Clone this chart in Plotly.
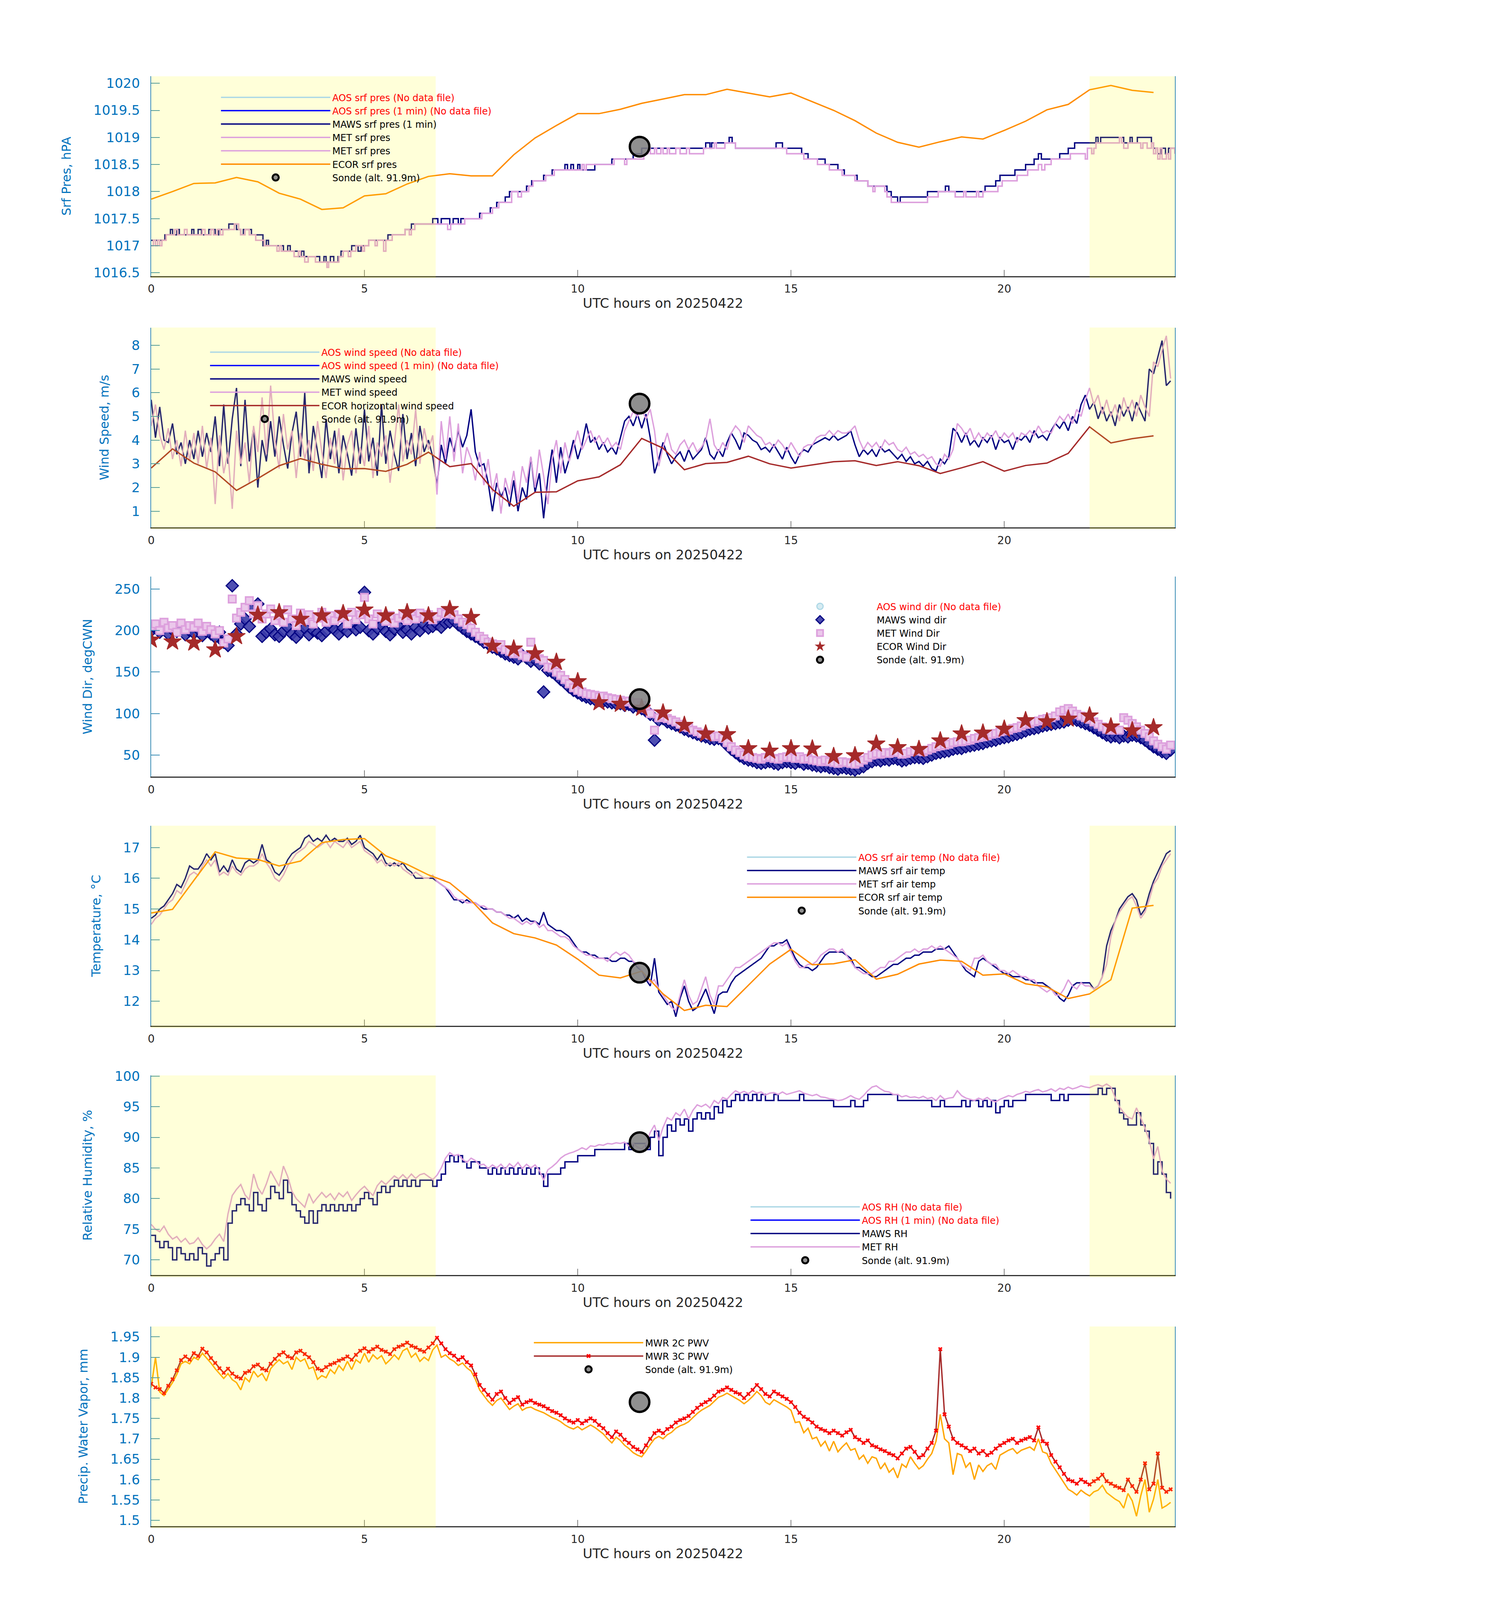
import numpy as np
import plotly.graph_objects as go

# Surface met comparison for 2025-04-22, six stacked panels.
# Layout positions are measured on the 3825 x 7125 original and kept as fractions;
# the page is drawn to fit the 4096 px tall browser screen.
W = 3825
H_REF = 7125
H = 4080
FONT = "DejaVu Sans"
TXT_BLUE = "#0072BD"
AX_BLUE = "#3A8DB5"

# shaded (night) spans, UTC hours
shade_spans = [(0.0, 6.67), (22.0, 24.0)]

# radiosonde launch
sonde_t = [11.45]
sonde_pres = [1018.83]
sonde_ws = [5.54]
sonde_wd = [117.4]
sonde_temp = [12.93]
sonde_rh = [89.2]
sonde_pwv = [1.79]

# ---- pressure (hPa), step data ----
maws_p_t = [0.00, 0.32, 0.45, 0.50, 0.60, 0.66, 0.95, 1.00, 1.10, 1.18, 1.35, 1.50, 1.58, 1.82, 2.00, 2.10,
            2.16, 2.35, 2.62, 2.70, 2.75, 3.10, 3.20, 3.26, 3.45, 3.52, 3.58, 3.95, 4.05, 4.10, 4.20, 4.28,
            4.38, 4.45, 4.70, 4.85, 4.92, 5.10, 5.55, 5.95, 6.10, 6.60, 6.72, 6.80, 7.00, 7.08, 7.20, 7.26,
            7.70, 7.95, 8.10, 8.30, 8.40, 8.80, 8.92, 9.20, 9.40, 9.70, 9.76, 9.84, 9.90, 10.00, 10.05, 10.40,
            10.80, 11.30, 11.50, 13.00, 13.10, 13.14, 13.55, 13.62, 13.70, 14.65, 14.80, 15.25, 15.40, 15.80,
            16.10, 16.25, 16.55, 16.80, 17.25, 17.35, 17.50, 17.56, 18.20, 18.62, 18.70, 19.55, 19.80, 19.90,
            20.25, 20.50, 20.70, 20.80, 20.87, 21.30, 21.50, 21.65, 22.15, 22.20, 22.26, 22.80, 22.95, 23.00,
            23.12, 23.45, 23.50, 23.60, 23.68, 23.78, 23.85, 24.00]
maws_p = [1017.1, 1017.2, 1017.3, 1017.2, 1017.3, 1017.2, 1017.3, 1017.2, 1017.3, 1017.2, 1017.3, 1017.2,
          1017.3, 1017.4, 1017.3, 1017.2, 1017.3, 1017.2, 1017.0, 1017.1, 1017.0, 1016.9, 1017.0, 1016.9,
          1016.8, 1016.9, 1016.8, 1016.7, 1016.8, 1016.7, 1016.8, 1016.7, 1016.8, 1016.9, 1017.0, 1016.9,
          1017.0, 1017.1, 1017.2, 1017.3, 1017.4, 1017.5, 1017.4, 1017.5, 1017.4, 1017.5, 1017.4, 1017.5,
          1017.6, 1017.7, 1017.8, 1017.9, 1018.0, 1018.1, 1018.2, 1018.3, 1018.4, 1018.5, 1018.4, 1018.5,
          1018.4, 1018.5, 1018.4, 1018.5, 1018.6, 1018.7, 1018.8, 1018.9, 1018.8, 1018.9, 1019.0, 1018.9,
          1018.8, 1018.9, 1018.8, 1018.7, 1018.6, 1018.5, 1018.4, 1018.3, 1018.2, 1018.1, 1018.0, 1017.9,
          1017.8, 1017.9, 1018.0, 1018.1, 1018.0, 1018.1, 1018.2, 1018.3, 1018.4, 1018.5, 1018.6, 1018.7,
          1018.6, 1018.7, 1018.8, 1018.9, 1019.0, 1018.9, 1019.0, 1018.9, 1019.0, 1018.9, 1019.0, 1018.9,
          1018.8, 1018.7, 1018.8, 1018.7, 1018.8, 1018.8]

met_p_t = [0.00, 0.05, 0.10, 0.15, 0.20, 0.25, 0.35, 0.55, 0.62, 0.78, 0.84, 1.20, 1.26, 1.40, 1.46, 1.55,
           1.62, 1.68, 1.95, 2.05, 2.10, 2.20, 2.30, 2.45, 2.65, 2.95, 3.00, 3.05, 3.35, 3.45, 3.50, 3.60,
           3.68, 3.85, 4.12, 4.16, 4.40, 4.50, 4.62, 4.68, 4.80, 4.95, 5.00, 5.10, 5.25, 5.30, 5.45, 5.50,
           5.65, 5.95, 6.05, 6.10, 6.18, 6.95, 7.02, 7.35, 7.75, 8.00, 8.15, 8.45, 8.60, 8.68, 8.85, 8.95,
           9.25, 9.45, 10.10, 10.15, 10.20, 10.85, 11.10, 11.15, 11.55, 11.65, 11.70, 11.80, 11.85, 11.95,
           12.00, 12.10, 12.15, 12.30, 12.40, 12.55, 12.62, 12.95, 13.20, 13.25, 13.45, 13.70, 14.10, 14.90,
           15.30, 15.62, 15.90, 16.20, 16.50, 16.80, 16.92, 16.97, 17.20, 17.25, 17.35, 18.20, 18.45, 18.85,
           19.05, 19.10, 19.35, 19.40, 19.50, 19.85, 19.95, 20.30, 20.55, 20.80, 20.88, 20.95, 21.10, 21.55,
           21.90, 21.95, 22.05, 22.10, 22.15, 22.70, 22.75, 22.80, 22.90, 23.20, 23.25, 23.35, 23.45, 23.50,
           23.55, 23.60, 23.65, 23.70, 23.80, 23.85, 23.90, 24.00]
met_p = [1017.0, 1017.1, 1017.0, 1017.1, 1017.0, 1017.1, 1017.2, 1017.3, 1017.2, 1017.3, 1017.2, 1017.3,
         1017.2, 1017.3, 1017.2, 1017.3, 1017.2, 1017.3, 1017.4, 1017.3, 1017.2, 1017.3, 1017.2, 1017.1,
         1017.0, 1016.9, 1017.0, 1016.9, 1016.8, 1016.9, 1016.8, 1016.7, 1016.8, 1016.7, 1016.6, 1016.7,
         1016.8, 1016.9, 1016.8, 1016.9, 1017.0, 1016.9, 1017.0, 1017.1, 1017.0, 1017.1, 1016.9, 1017.1,
         1017.2, 1017.3, 1017.2, 1017.3, 1017.4, 1017.3, 1017.4, 1017.5, 1017.6, 1017.7, 1017.8, 1018.0,
         1017.9, 1018.0, 1018.1, 1018.2, 1018.3, 1018.4, 1018.5, 1018.4, 1018.5, 1018.6, 1018.5, 1018.6,
         1018.7, 1018.8, 1018.7, 1018.8, 1018.7, 1018.8, 1018.7, 1018.8, 1018.7, 1018.8, 1018.7, 1018.8,
         1018.7, 1018.8, 1018.9, 1018.8, 1018.9, 1018.8, 1018.8, 1018.7, 1018.6, 1018.5, 1018.4, 1018.3,
         1018.2, 1018.1, 1018.0, 1018.1, 1018.0, 1017.9, 1017.8, 1017.9, 1018.0, 1017.9, 1018.0, 1017.9,
         1018.0, 1017.9, 1018.0, 1018.1, 1018.2, 1018.3, 1018.4, 1018.5, 1018.4, 1018.5, 1018.6, 1018.7,
         1018.6, 1018.8, 1018.7, 1018.8, 1018.9, 1019.0, 1018.9, 1018.8, 1018.9, 1018.8, 1018.9, 1018.8,
         1018.9, 1018.7, 1018.8, 1018.6, 1018.8, 1018.6, 1018.7, 1018.6, 1018.8, 1018.7]

# ECOR half-hourly
ecor_t = [0.0, 0.5, 1.0, 1.5, 2.0, 2.5, 3.0, 3.5, 4.0, 4.5, 5.0, 5.5, 6.0, 6.5, 7.0, 7.5, 8.0, 8.5, 9.0, 9.5,
          10.0, 10.5, 11.0, 11.5, 12.0, 12.5, 13.0, 13.5, 14.0, 14.5, 15.0, 15.5, 16.0, 16.5, 17.0, 17.5,
          18.0, 18.5, 19.0, 19.5, 20.0, 20.5, 21.0, 21.5, 22.0, 22.5, 23.0, 23.5]
ecor_pres = [1017.86, 1018.00, 1018.15, 1018.16, 1018.26, 1018.18, 1017.97, 1017.86, 1017.67, 1017.70,
             1017.92, 1017.96, 1018.14, 1018.28, 1018.33, 1018.29, 1018.29, 1018.68, 1018.99, 1019.22,
             1019.44, 1019.44, 1019.52, 1019.63, 1019.71, 1019.79, 1019.79, 1019.89, 1019.82, 1019.75,
             1019.82, 1019.66, 1019.50, 1019.31, 1019.08, 1018.91, 1018.82, 1018.92, 1019.01, 1018.97,
             1019.13, 1019.30, 1019.51, 1019.61, 1019.88, 1019.96, 1019.87, 1019.83]
ecor_ws = [2.82, 3.63, 3.03, 2.66, 1.88, 2.38, 2.92, 3.22, 2.98, 2.79, 2.80, 2.68, 2.98, 3.49, 2.88, 3.01,
           1.92, 1.21, 1.80, 1.82, 2.28, 2.45, 2.96, 4.07, 3.66, 2.75, 3.01, 3.06, 3.32, 3.00, 2.82, 2.96,
           3.09, 3.13, 2.93, 3.09, 2.92, 2.59, 2.83, 3.09, 2.69, 2.93, 3.03, 3.44, 4.56, 3.88, 4.06, 4.18]
ecor_wd = [188.8, 186.5, 185.2, 177.0, 193.0, 218.8, 221.8, 213.8, 218.0, 220.7, 225.0, 218.0, 221.8, 218.0,
           225.6, 216.0, 181.3, 178.0, 172.4, 162.0, 138.6, 113.3, 111.4, 106.7, 101.0, 86.0, 75.7, 74.8,
           57.9, 55.0, 57.9, 57.5, 48.5, 49.4, 63.5, 59.2, 57.0, 67.3, 75.7, 76.7, 81.4, 91.7, 90.4, 93.6,
           97.3, 84.2, 79.5, 83.2]
ecor_temp = [14.87, 14.99, 15.93, 16.86, 16.66, 16.61, 16.40, 16.56, 17.16, 17.26, 17.29, 16.73, 16.45,
             16.11, 15.85, 15.28, 14.55, 14.20, 14.06, 13.83, 13.37, 12.85, 12.76, 12.98, 12.24, 11.70,
             11.87, 11.83, 12.52, 13.21, 13.69, 13.19, 13.22, 13.35, 12.72, 12.88, 13.21, 13.34, 13.30,
             12.85, 12.89, 12.57, 12.47, 12.09, 12.24, 12.70, 15.03, 15.12]

# ---- 6-minute samples, 0.0 .. 23.9 h ----
maws_ws = [5.7, 4.1, 5.4, 4.0, 3.9, 4.7, 3.4, 3.9, 3.0, 4.0,
           3.2, 4.4, 3.3, 4.3, 3.5, 5.0, 2.9, 5.5, 3.0, 4.9,
           6.2, 2.9, 5.7, 3.1, 4.5, 2.0, 4.0, 3.1, 4.8, 3.3,
           5.0, 3.8, 2.8, 4.3, 5.2, 3.3, 6.0, 2.6, 4.6, 3.5,
           2.4, 4.9, 3.2, 4.4, 2.6, 4.2, 3.4, 2.5, 4.5, 3.0,
           5.3, 3.1, 4.1, 2.5, 5.5, 3.0, 4.4, 3.4, 2.7, 5.1,
           3.2, 4.3, 2.9, 4.6, 3.5, 4.0, 3.3, 2.1, 3.8, 3.0,
           4.1, 3.5, 4.4, 3.7, 4.2, 5.3, 3.5, 2.9, 3.0, 2.2,
           1.0, 2.2, 1.6, 2.0, 1.2, 2.3, 1.0, 2.0, 1.5, 3.3,
           1.8, 2.6, 0.7, 2.4, 3.6, 2.2, 3.7, 2.6, 3.2, 4.0,
           3.2, 3.8, 4.7, 3.9, 4.1, 3.6, 3.9, 3.5, 3.7, 3.4,
           4.1, 4.8, 5.0, 4.6, 5.1, 4.5, 5.1, 4.1, 2.6, 3.2,
           3.9, 3.4, 3.0, 3.3, 3.5, 3.1, 3.6, 3.2, 3.4, 3.6,
           4.1, 3.4, 3.2, 3.6, 3.3, 3.9, 4.3, 4.0, 3.6, 4.3,
           4.2, 4.0, 3.9, 3.6, 3.7, 3.5, 3.8, 3.5, 3.2, 3.7,
           3.3, 3.0, 3.4, 3.6, 3.5, 3.8, 3.9, 4.0, 4.1, 4.0,
           4.2, 4.0, 4.1, 4.2, 4.4, 3.8, 3.3, 3.6, 3.4, 3.6,
           3.3, 3.7, 3.5, 3.6, 3.4, 3.2, 3.4, 3.1, 3.3, 3.0,
           3.1, 2.9, 3.1, 2.8, 2.7, 3.2, 3.0, 3.3, 4.5, 4.3,
           3.9, 4.3, 3.8, 4.0, 3.7, 4.1, 3.9, 4.2, 3.6, 4.1,
           3.9, 4.0, 3.6, 4.1, 4.0, 4.2, 3.9, 4.4, 4.1, 4.2,
           4.0, 4.4, 4.7, 4.5, 4.8, 4.4, 5.0, 4.7, 5.5, 5.9,
           5.3, 5.6, 4.9, 5.4, 4.8, 5.2, 4.6, 5.5, 5.0, 5.4,
           4.8, 5.6, 5.2, 4.8, 7.0, 6.8, 7.5, 8.2, 6.3, 6.5]
met_ws = [4.6, 5.5, 4.2, 3.6, 4.5, 3.2, 4.0, 2.9, 4.4, 3.1,
          4.3, 3.0, 4.6, 2.8, 4.1, 1.3, 4.2, 2.6, 3.5, 1.1,
          4.4, 3.0, 3.9, 2.2, 4.6, 3.5, 5.8, 3.4, 6.3, 4.0,
          2.8, 5.1, 3.6, 4.4, 2.4, 4.3, 3.2, 4.0, 2.7, 4.8,
          3.5, 2.4, 4.1, 3.0, 4.5, 2.3, 3.8, 4.4, 2.6, 3.7,
          2.9, 4.6, 2.4, 3.9, 3.3, 4.2, 2.2, 3.8, 5.5, 3.1,
          4.0, 3.4, 5.3, 3.0, 4.5, 3.6, 4.2, 1.7, 4.8, 3.2,
          5.0, 3.1, 4.7, 2.6, 3.7, 3.2, 2.3, 3.5, 2.1, 3.2,
          1.8, 2.6, 0.9, 2.4, 1.7, 2.7, 1.4, 2.9, 2.2, 3.3,
          2.0, 3.6, 2.5, 1.3, 3.2, 4.0, 2.6, 3.9, 3.1, 3.7,
          4.4, 3.6, 4.0, 4.4, 3.9, 4.2, 3.8, 4.1, 3.7, 3.9,
          3.6, 4.4, 4.8, 5.2, 5.0, 5.3, 4.9, 5.3, 4.4, 2.9,
          3.7, 4.3, 3.6, 3.4, 3.8, 4.0, 3.6, 3.9, 3.5, 3.7,
          4.0, 4.9, 3.8, 3.5, 3.9, 3.6, 4.3, 4.6, 4.4, 3.9,
          4.6, 4.4, 4.2, 4.1, 3.8, 3.9, 3.7, 4.0, 3.8, 3.5,
          3.9, 3.6, 3.3, 3.7, 3.8, 3.8, 4.1, 4.2, 4.2, 4.4,
          4.2, 4.4, 4.3, 4.3, 4.4, 4.6, 4.0, 3.6, 3.9, 3.7,
          3.9, 3.6, 4.0, 3.8, 3.9, 3.6, 3.5, 3.7, 3.4, 3.5,
          3.3, 3.4, 3.2, 3.3, 3.0, 2.9, 3.4, 3.2, 3.6, 4.7,
          4.5, 4.2, 4.5, 4.0, 4.3, 4.0, 4.3, 4.1, 4.4, 4.0,
          4.3, 4.1, 4.3, 3.9, 4.3, 4.2, 4.4, 4.2, 4.6, 4.3,
          4.4, 4.3, 4.7, 5.0, 4.8, 5.1, 4.7, 5.3, 5.0, 5.7,
          6.2, 5.5, 5.9, 5.1, 5.7, 5.0, 5.5, 4.8, 5.8, 5.2,
          5.7, 5.0, 5.9, 5.4, 5.0, 7.3, 7.1, 7.8, 8.4, 6.6]

maws_wd = [200, 203, 198, 205, 196, 201, 199, 204, 195, 200,
           197, 202, 194, 199, 196, 192, 198, 186, 182, 254,
           196, 208, 214, 205, 228, 232, 193, 198, 202, 195,
           193, 199, 204, 196, 192, 198, 203, 195, 200, 197,
           194, 199, 205, 201, 196, 203, 199, 206, 201, 204,
           246, 200, 196, 203, 206, 199, 195, 202, 205, 198,
           201, 196, 204, 200, 207, 203, 205, 208, 204, 209,
           210, 212, 207, 203, 199, 196, 193, 190, 186, 184,
           180, 178, 175, 172, 170, 168, 166, 170, 167, 163,
           165, 160, 126, 152, 150, 146, 141, 137, 132, 128,
           125, 122, 120, 118, 117, 116, 115, 114, 113, 112,
           112, 110, 111, 108, 109, 106, 103, 99, 68, 92,
           94, 90, 88, 86, 84, 81, 79, 77, 75, 73,
           72, 70, 69, 70, 68, 62, 57, 53, 49, 46,
           44, 43, 41, 40, 41, 42, 40, 39, 41, 42,
           41, 40, 42, 39, 40, 38, 37, 36, 37, 35,
           34, 33, 35, 34, 33, 32, 34, 36, 40, 42,
           44, 43, 45, 44, 46, 45, 43, 44, 46, 47,
           47, 46, 48, 50, 52, 53, 54, 55, 57, 58,
           58, 60, 61, 62, 63, 64, 66, 67, 68, 70,
           71, 72, 74, 75, 77, 79, 81, 82, 83, 85,
           86, 87, 88, 89, 90, 92, 93, 92, 90, 88,
           86, 83, 80, 77, 74, 72, 73, 71, 73, 72,
           74, 73, 71, 68, 64, 60, 57, 54, 52, 56]
met_wd = [205, 208, 200, 210, 203, 206, 198, 209, 201, 206,
          204, 209, 199, 205, 201, 196, 200, 185, 190, 238,
          215, 222, 228, 236, 220, 230, 214, 220, 226, 212,
          218, 210, 225, 214, 206, 221, 212, 219, 208, 215,
          222, 210, 218, 212, 220, 215, 208, 222, 213, 219,
          240, 214, 208, 220, 216, 211, 218, 209, 215, 220,
          212, 218, 214, 221, 216, 219, 213, 217, 222, 220,
          223, 219, 214, 210, 207, 203, 198, 193, 190, 186,
          184, 180, 183, 177, 175, 172, 174, 170, 168, 186,
          170, 166, 164, 156, 155, 150, 146, 141, 136, 131,
          128, 126, 124, 123, 122, 120, 121, 119, 118, 117,
          116, 114, 115, 112, 113, 110, 106, 100, 80, 95,
          97, 94, 92, 90, 87, 84, 83, 80, 78, 76,
          75, 74, 72, 73, 70, 65, 60, 56, 53, 50,
          48, 47, 46, 45, 47, 48, 46, 45, 47, 48,
          47, 46, 48, 45, 46, 44, 43, 42, 44, 42,
          41, 40, 42, 41, 40, 39, 41, 44, 47, 50,
          52, 51, 53, 52, 54, 53, 51, 52, 54, 55,
          55, 54, 56, 58, 60, 61, 62, 63, 65, 66,
          66, 67, 68, 70, 71, 72, 73, 75, 76, 78,
          79, 80, 82, 83, 85, 87, 88, 90, 91, 93,
          94, 95, 97, 102, 104, 106, 103, 99, 97, 95,
          93, 90, 87, 84, 81, 80, 82, 80, 95, 92,
          88, 84, 80, 76, 72, 67, 63, 60, 57, 62]

maws_temp = [14.7, 14.8, 15.0, 15.1, 15.3, 15.5, 15.8, 15.7, 16.0, 16.4,
             16.3, 16.3, 16.5, 16.8, 16.6, 16.8, 16.2, 16.4, 16.2, 16.6,
             16.3, 16.2, 16.5, 16.6, 16.5, 16.6, 17.1, 16.6, 16.5, 16.2,
             16.1, 16.3, 16.6, 16.8, 16.9, 17.0, 17.3, 17.4, 17.2, 17.3,
             17.2, 17.4, 17.2, 17.3, 17.2, 17.2, 17.3, 17.1, 17.2, 17.4,
             17.0, 16.9, 16.8, 16.6, 16.8, 16.5, 16.4, 16.5, 16.4, 16.5,
             16.3, 16.2, 16.0, 16.0, 16.0, 16.0, 16.0, 15.9, 15.8, 15.7,
             15.5, 15.3, 15.3, 15.2, 15.3, 15.2, 15.2, 15.1, 15.0, 15.0,
             15.0, 14.9, 14.9, 14.8, 14.8, 14.7, 14.8, 14.6, 14.7, 14.6,
             14.6, 14.5, 14.9, 14.5, 14.4, 14.3, 14.3, 14.2, 14.1, 13.9,
             13.7, 13.6, 13.6, 13.5, 13.5, 13.4, 13.4, 13.4, 13.3, 13.3,
             13.4, 13.4, 13.3, 13.3, 13.1, 13.0, 12.7, 12.5, 13.4, 12.3,
             12.1, 11.9, 12.0, 11.5, 12.1, 12.5, 12.0, 11.7, 11.8, 12.1,
             12.4, 12.0, 11.6, 12.2, 12.3, 12.3, 12.6, 12.8, 12.9, 13.0,
             13.1, 13.2, 13.3, 13.4, 13.6, 13.8, 13.8, 13.9, 13.9, 14.0,
             13.7, 13.4, 13.2, 13.1, 13.1, 13.0, 13.1, 13.3, 13.5, 13.6,
             13.6, 13.6, 13.6, 13.5, 13.4, 13.1, 13.1, 13.0, 12.9, 12.8,
             12.8, 12.9, 13.0, 13.1, 13.2, 13.2, 13.3, 13.4, 13.4, 13.5,
             13.5, 13.6, 13.6, 13.6, 13.7, 13.7, 13.7, 13.8, 13.6, 13.4,
             13.2, 13.0, 12.9, 12.8, 13.3, 13.4, 13.3, 13.2, 13.1, 13.0,
             12.9, 12.9, 12.8, 12.8, 12.8, 12.7, 12.7, 12.6, 12.6, 12.6,
             12.5, 12.4, 12.3, 12.1, 12.0, 12.2, 12.5, 12.6, 12.6, 12.6,
             12.6, 12.4, 12.5, 12.8, 13.8, 14.3, 14.6, 15.0, 15.2, 15.4,
             15.5, 15.3, 14.8, 15.0, 15.5, 15.9, 16.2, 16.5, 16.8, 16.9]
met_temp = [14.5, 14.7, 14.8, 15.0, 15.2, 15.3, 15.6, 15.5, 15.8, 16.1,
            16.2, 16.1, 16.4, 16.6, 16.4, 16.6, 16.1, 16.2, 16.1, 16.4,
            16.2, 16.1, 16.3, 16.4, 16.4, 16.5, 16.8, 16.5, 16.3, 16.0,
            15.9, 16.1, 16.4, 16.6, 16.8, 16.9, 17.0, 17.2, 17.1, 17.0,
            17.1, 17.2, 17.0, 17.2, 17.1, 17.0, 17.2, 17.0, 17.1, 17.2,
            16.9, 16.8, 16.7, 16.5, 16.6, 16.4, 16.5, 16.4, 16.5, 16.3,
            16.2, 16.1, 16.2, 16.1, 16.0, 16.0, 16.1, 15.9, 15.8, 15.7,
            15.6, 15.4, 15.3, 15.3, 15.2, 15.2, 15.2, 15.1, 15.1, 15.0,
            15.0, 14.9, 14.9, 14.8, 14.7, 14.7, 14.6, 14.5, 14.6, 14.5,
            14.6, 14.4, 14.5, 14.3, 14.3, 14.2, 14.1, 14.1, 14.0, 13.8,
            13.7, 13.6, 13.5, 13.5, 13.4, 13.4, 13.4, 13.3, 13.5, 13.6,
            13.5, 13.6, 13.5, 13.3, 13.2, 13.0, 12.8, 12.6, 12.7, 12.4,
            12.2, 12.0, 11.8, 11.7, 12.2, 12.7, 12.2, 11.9, 12.0, 12.4,
            12.8, 12.2, 11.9, 12.5, 12.5, 12.7, 12.9, 13.1, 13.1, 13.2,
            13.3, 13.4, 13.5, 13.6, 13.7, 13.8, 13.9, 13.9, 13.8, 13.9,
            13.6, 13.3, 13.1, 13.1, 13.2, 13.2, 13.3, 13.5, 13.6, 13.7,
            13.7, 13.6, 13.7, 13.5, 13.3, 13.1, 13.0, 12.9, 12.9, 12.9,
            13.0, 13.1, 13.1, 13.3, 13.3, 13.4, 13.5, 13.6, 13.6, 13.7,
            13.6, 13.7, 13.7, 13.8, 13.7, 13.8, 13.7, 13.6, 13.5, 13.4,
            13.2, 13.1, 13.0, 13.4, 13.4, 13.5, 13.3, 13.2, 13.2, 13.0,
            13.0, 12.9, 13.0, 12.9, 12.8, 12.8, 12.7, 12.7, 12.5, 12.4,
            12.3, 12.4, 12.2, 12.2, 12.4, 12.7, 12.5, 12.4, 12.6, 12.5,
            12.5, 12.4, 12.5, 12.8, 13.2, 14.1, 14.6, 14.9, 15.1, 15.3,
            15.4, 15.1, 14.7, 14.9, 15.3, 15.8, 16.0, 16.4, 16.6, 16.8]

maws_rh = [74, 73, 72, 73, 72, 70, 72, 71, 70, 71,
           70, 72, 71, 69, 70, 71, 72, 70, 76, 78,
           79, 80, 79, 78, 81, 79, 78, 80, 82, 81,
           80, 83, 81, 79, 78, 77, 76, 78, 76, 78,
           79, 78, 79, 78, 79, 78, 79, 78, 79, 80,
           81, 80, 79, 81, 82, 81, 82, 83, 82, 83,
           82, 83, 82, 83, 83, 83, 82, 83, 84, 86,
           87, 86, 87, 86, 85, 86, 86, 85, 85, 84,
           85, 84, 85, 84, 85, 84, 85, 84, 85, 84,
           85, 84, 82, 84, 84, 84, 85, 86, 86, 86,
           87, 87, 87, 87, 88, 88, 88, 88, 88, 88,
           88, 89, 88, 89, 89, 89, 88, 90, 91, 87,
           90, 92, 91, 93, 92, 93, 91, 93, 94, 93,
           94, 93, 95, 94, 96, 95, 96, 97, 96, 97,
           96, 97, 96, 97, 96, 96, 97, 96, 96, 96,
           96, 96, 97, 96, 96, 96, 96, 96, 96, 96,
           95, 95, 95, 95, 96, 95, 95, 96, 97, 97,
           97, 97, 97, 97, 97, 96, 96, 96, 96, 96,
           96, 96, 96, 95, 95, 96, 95, 95, 95, 95,
           96, 95, 96, 96, 95, 96, 95, 96, 94, 95,
           96, 95, 96, 96, 96, 97, 97, 97, 97, 97,
           97, 96, 96, 97, 96, 97, 97, 97, 97, 97,
           97, 97, 98, 97, 98, 98, 96, 94, 93, 92,
           92, 94, 92, 91, 89, 84, 86, 84, 81, 80]
met_rh = [75.8, 75.0, 74.6, 75.5, 74.2, 73.4, 73.8, 72.9, 73.5, 72.6,
          72.8, 73.6, 72.5, 71.8, 72.4, 73.4, 74.2, 73.0, 77.5, 80.5,
          81.5, 82.3, 80.6, 79.8, 84.0, 81.8, 80.7, 82.4, 84.5, 83.2,
          82.0, 85.3, 83.6, 81.2, 80.0, 79.3, 78.6, 80.8, 79.3, 80.2,
          81.0, 80.2, 80.8, 79.8, 80.9, 80.3, 81.1, 79.7, 80.6, 81.4,
          82.0, 81.2, 80.5, 82.1, 82.9, 82.3, 83.0, 83.7, 83.2, 83.9,
          83.2, 84.0, 83.3, 83.9, 84.1, 83.6, 83.1, 83.8, 85.0, 86.6,
          87.5, 87.0, 87.2, 86.4, 85.9, 86.6, 86.2, 85.5, 85.6, 84.9,
          85.5, 85.0, 85.6, 84.8, 85.7, 85.1, 85.9, 84.9, 85.6, 85.0,
          85.5, 84.6, 83.0, 84.7, 85.2, 85.8, 86.6, 87.1, 87.4, 87.6,
          87.9, 88.3, 88.0, 88.6, 88.5, 88.8, 88.7, 89.0, 88.9, 89.1,
          89.0, 89.2, 88.6, 89.0, 88.4, 88.1, 88.9, 90.8, 92.0, 89.5,
          91.6, 93.2, 92.8, 94.0, 93.5, 94.6, 93.0, 94.4, 95.3, 95.0,
          95.4, 94.8, 96.0, 95.5, 96.5, 96.2, 97.0, 97.6, 97.2, 97.5,
          97.1, 97.6, 97.2, 97.4, 96.9, 97.2, 97.3, 97.0, 97.4, 97.0,
          97.2, 97.4, 97.6, 97.2, 97.0, 96.8, 97.0, 96.6, 96.5, 96.3,
          96.2, 96.0, 96.1, 96.4, 96.8, 96.4, 96.2, 96.8, 97.6, 98.2,
          98.4, 97.9, 97.5, 97.4, 97.0, 97.0, 96.6, 96.8, 96.5, 96.6,
          96.4, 96.7, 96.3, 96.5, 96.0, 96.8, 96.2, 96.4, 96.5, 97.6,
          96.8, 96.4, 96.2, 96.0, 96.4, 96.1, 96.5, 96.0, 95.8, 96.2,
          96.5, 96.8, 96.6, 97.0, 97.2, 97.5, 97.3, 97.6, 97.8, 97.4,
          97.6, 97.9, 97.5, 98.0, 97.8, 98.2, 97.9, 98.1, 98.4, 98.2,
          98.1, 98.4, 98.6, 98.3, 98.7, 98.2, 96.5, 95.0, 94.0, 93.3,
          93.0, 94.8, 93.2, 91.5, 89.5, 86.5, 88.5, 84.5, 83.2, 82.5]

mwr3c_pwv = [1.835, 1.826, 1.822, 1.812, 1.830, 1.846, 1.868, 1.893, 1.902, 1.894,
             1.910, 1.903, 1.921, 1.912, 1.898, 1.886, 1.873, 1.862, 1.872, 1.860,
             1.852, 1.848, 1.862, 1.866, 1.878, 1.882, 1.872, 1.868, 1.884, 1.896,
             1.906, 1.912, 1.902, 1.898, 1.912, 1.916, 1.908, 1.900, 1.888, 1.872,
             1.868, 1.876, 1.882, 1.886, 1.892, 1.896, 1.902, 1.894, 1.906, 1.916,
             1.922, 1.914, 1.920, 1.926, 1.918, 1.914, 1.908, 1.920, 1.926, 1.930,
             1.936, 1.928, 1.924, 1.918, 1.914, 1.924, 1.934, 1.948, 1.934, 1.920,
             1.910, 1.904, 1.894, 1.900, 1.888, 1.880, 1.858, 1.832, 1.820, 1.808,
             1.796, 1.810, 1.816, 1.800, 1.788, 1.796, 1.802, 1.784, 1.790, 1.794,
             1.788, 1.784, 1.780, 1.774, 1.768, 1.764, 1.758, 1.750, 1.744, 1.740,
             1.746, 1.738, 1.744, 1.750, 1.744, 1.734, 1.726, 1.714, 1.704, 1.718,
             1.710, 1.698, 1.690, 1.680, 1.674, 1.668, 1.684, 1.700, 1.714, 1.720,
             1.714, 1.724, 1.730, 1.740, 1.746, 1.750, 1.756, 1.766, 1.776, 1.784,
             1.790, 1.796, 1.806, 1.816, 1.820, 1.826, 1.820, 1.814, 1.810, 1.800,
             1.810, 1.820, 1.832, 1.822, 1.810, 1.804, 1.816, 1.810, 1.804, 1.798,
             1.790, 1.778, 1.764, 1.754, 1.748, 1.740, 1.730, 1.724, 1.720, 1.714,
             1.720, 1.714, 1.708, 1.716, 1.722, 1.704, 1.698, 1.690, 1.696, 1.684,
             1.680, 1.674, 1.670, 1.664, 1.660, 1.652, 1.664, 1.676, 1.680, 1.668,
             1.654, 1.660, 1.676, 1.690, 1.720, 1.920, 1.760, 1.730, 1.700, 1.690,
             1.684, 1.678, 1.670, 1.676, 1.664, 1.670, 1.660, 1.666, 1.676, 1.684,
             1.690, 1.696, 1.700, 1.690, 1.696, 1.700, 1.704, 1.696, 1.728, 1.694,
             1.688, 1.660, 1.644, 1.630, 1.614, 1.600, 1.596, 1.590, 1.600, 1.594,
             1.588, 1.596, 1.602, 1.612, 1.596, 1.590, 1.584, 1.580, 1.574, 1.600,
             1.584, 1.570, 1.600, 1.640, 1.576, 1.590, 1.664, 1.580, 1.570, 1.576]
mwr2c_pwv = [1.826, 1.900, 1.815, 1.806, 1.822, 1.838, 1.858, 1.884, 1.890, 1.884,
             1.900, 1.894, 1.910, 1.898, 1.886, 1.872, 1.860, 1.848, 1.860, 1.845,
             1.838, 1.820, 1.850, 1.840, 1.866, 1.852, 1.860, 1.842, 1.872, 1.884,
             1.894, 1.884, 1.890, 1.870, 1.900, 1.890, 1.896, 1.872, 1.876, 1.846,
             1.855, 1.850, 1.870, 1.860, 1.880, 1.868, 1.890, 1.870, 1.894, 1.886,
             1.910, 1.888, 1.906, 1.896, 1.904, 1.884, 1.894, 1.906, 1.895, 1.916,
             1.922, 1.900, 1.910, 1.890, 1.900, 1.892, 1.918, 1.930, 1.900, 1.906,
             1.896, 1.890, 1.880, 1.886, 1.874, 1.866, 1.846, 1.820, 1.806, 1.792,
             1.782, 1.794, 1.800, 1.786, 1.772, 1.780, 1.786, 1.770, 1.776, 1.778,
             1.772, 1.768, 1.764, 1.758, 1.752, 1.748, 1.742, 1.734, 1.728, 1.724,
             1.730, 1.722, 1.728, 1.734, 1.728, 1.720, 1.712, 1.700, 1.690, 1.704,
             1.696, 1.684, 1.676, 1.666, 1.660, 1.656, 1.670, 1.686, 1.700, 1.706,
             1.700, 1.710, 1.716, 1.726, 1.732, 1.736, 1.742, 1.752, 1.762, 1.770,
             1.776, 1.782, 1.792, 1.802, 1.806, 1.812, 1.806, 1.800, 1.794, 1.786,
             1.794, 1.804, 1.816, 1.806, 1.790, 1.784, 1.796, 1.790, 1.784, 1.778,
             1.770, 1.740, 1.742, 1.715, 1.726, 1.700, 1.704, 1.682, 1.694, 1.670,
             1.694, 1.668, 1.680, 1.690, 1.672, 1.676, 1.650, 1.660, 1.640, 1.656,
             1.652, 1.626, 1.640, 1.618, 1.628, 1.604, 1.638, 1.630, 1.656, 1.640,
             1.626, 1.634, 1.650, 1.664, 1.694, 1.760, 1.700, 1.690, 1.612, 1.664,
             1.660, 1.630, 1.642, 1.600, 1.636, 1.620, 1.634, 1.640, 1.625, 1.660,
             1.666, 1.672, 1.676, 1.664, 1.672, 1.676, 1.680, 1.672, 1.700, 1.668,
             1.664, 1.640, 1.624, 1.608, 1.592, 1.576, 1.570, 1.562, 1.574, 1.566,
             1.560, 1.570, 1.574, 1.586, 1.568, 1.560, 1.552, 1.546, 1.530, 1.566,
             1.548, 1.510, 1.560, 1.600, 1.520, 1.552, 1.600, 1.530, 1.536, 1.544]

t6 = np.arange(len(maws_ws)) * 0.1  # 6-minute sample times

# ---- layout helpers (pixel positions on the 3825 x 7125 original) ----
panels = [(296, 1196), (1428, 2328), (2550, 3451), (3672, 4574), (4797, 5697), (5928, 6828)]
y_ranges = [[1016.44, 1020.13], [0.32, 8.75], [24, 265], [11.2, 17.71], [67.5, 100.1], [1.4855, 1.9756]]
y_ticks = [[1016.5, 1017, 1017.5, 1018, 1018.5, 1019, 1019.5, 1020],
           [1, 2, 3, 4, 5, 6, 7, 8],
           [50, 100, 150, 200, 250],
           [12, 13, 14, 15, 16, 17],
           [70, 75, 80, 85, 90, 95, 100],
           [1.5, 1.55, 1.6, 1.65, 1.7, 1.75, 1.8, 1.85, 1.9, 1.95]]
y_titles = ["Srf Pres, hPA", "Wind Speed, m/s", "Wind Dir, degCWN", "Temperature, °C",
            "Relative Humidity, %", "Precip. Water Vapor, mm"]
legend_pos = [(545, 352), (517, 1500), (1942, 2645), (1895, 3775), (1904, 5350), (1348, 5962)]

fig = go.Figure()


def ax(i):
    return ("x" if i == 1 else f"x{i}"), ("y" if i == 1 else f"y{i}"), ("legend" if i == 1 else f"legend{i}")


def red(s):
    return f'<span style="color:red">{s}</span>'


def line(i, x, y, name, color, shape="linear", width=3.5):
    xa, ya, lg = ax(i)
    fig.add_trace(go.Scatter(x=x, y=y, name=name, mode="lines", line=dict(color=color, width=width, shape=shape),
                             xaxis=xa, yaxis=ya, legend=lg))


def sonde(i, y):
    xa, ya, lg = ax(i)
    fig.add_trace(go.Scatter(x=sonde_t, y=y, name="Sonde (alt. 91.9m)", mode="markers",
                             marker=dict(symbol="circle", size=50, color="rgba(128,128,128,0.88)",
                                         line=dict(color="black", width=6)),
                             xaxis=xa, yaxis=ya, legend=lg))


# panel 1: pressure
line(1, [None], [None], red("AOS srf pres (No data file)"), "#ADD8E6")
line(1, [None], [None], red("AOS srf pres (1 min) (No data file)"), "#0000FF")
line(1, maws_p_t, maws_p, "MAWS srf pres (1 min)", "#000080", shape="hv")
line(1, met_p_t, met_p, "MET srf pres", "#DDA0DD", shape="hv")
line(1, met_p_t, met_p, "MET srf pres", "#DDA0DD", shape="hv")
line(1, ecor_t, ecor_pres, "ECOR srf pres", "#FF8C00")
sonde(1, sonde_pres)

# panel 2: wind speed
line(2, [None], [None], red("AOS wind speed (No data file)"), "#ADD8E6")
line(2, [None], [None], red("AOS wind speed (1 min) (No data file)"), "#0000FF")
line(2, t6, maws_ws, "MAWS wind speed", "#000080")
line(2, t6, met_ws, "MET wind speed", "#DDA0DD")
line(2, ecor_t, ecor_ws, "ECOR horizontal wind speed", "#A52A2A")
sonde(2, sonde_ws)

# panel 3: wind direction (markers)
fig.add_trace(go.Scatter(x=[None], y=[None], name=red("AOS wind dir (No data file)"), mode="markers",
                         marker=dict(symbol="circle", size=24, color="rgba(173,216,230,0.5)",
                                     line=dict(color="#ADD8E6", width=3)),
                         xaxis="x3", yaxis="y3", legend="legend3"))
fig.add_trace(go.Scatter(x=t6, y=maws_wd, name="MAWS wind dir", mode="markers",
                         marker=dict(symbol="diamond", size=24, color="rgba(60,60,170,0.9)",
                                     line=dict(color="#000080", width=3)),
                         xaxis="x3", yaxis="y3", legend="legend3"))
fig.add_trace(go.Scatter(x=t6, y=met_wd, name="MET Wind Dir", mode="markers",
                         marker=dict(symbol="square", size=19, color="#EBC8EB",
                                     line=dict(color="#DDA0DD", width=4)),
                         xaxis="x3", yaxis="y3", legend="legend3"))
fig.add_trace(go.Scatter(x=ecor_t, y=ecor_wd, name="ECOR Wind Dir", mode="markers",
                         marker=dict(symbol="star", size=34, color="#A52A2A",
                                     line=dict(color="#A52A2A", width=2)),
                         xaxis="x3", yaxis="y3", legend="legend3"))
sonde(3, sonde_wd)

# panel 4: temperature
line(4, [None], [None], red("AOS srf air temp (No data file)"), "#ADD8E6")
line(4, t6, maws_temp, "MAWS srf air temp", "#000080")
line(4, t6, met_temp, "MET srf air temp", "#DDA0DD")
line(4, ecor_t, ecor_temp, "ECOR srf air temp", "#FF8C00")
sonde(4, sonde_temp)

# panel 5: relative humidity
line(5, [None], [None], red("AOS RH (No data file)"), "#ADD8E6")
line(5, [None], [None], red("AOS RH (1 min) (No data file)"), "#0000FF")
line(5, t6, maws_rh, "MAWS RH", "#000080", shape="hv")
line(5, t6, met_rh, "MET RH", "#DDA0DD")
sonde(5, sonde_rh)

# panel 6: PWV
line(6, t6, mwr2c_pwv, "MWR 2C PWV", "#FFA500")
fig.add_trace(go.Scatter(x=t6, y=mwr3c_pwv, name="MWR 3C PWV", mode="lines+markers",
                         line=dict(color="#A52A2A", width=3.5),
                         marker=dict(symbol="x", size=10, color="#FF0000"),
                         xaxis="x6", yaxis="y6", legend="legend6"))
sonde(6, sonde_pwv)

layout = dict(width=W, height=H, margin=dict(l=0, r=0, t=0, b=0), paper_bgcolor="white",
              plot_bgcolor="white", font=dict(family=FONT, color="#262626"), showlegend=True, shapes=[])

for i, (top, bot) in enumerate(panels, start=1):
    xa, ya, lg = ax(i)
    xkey = "xaxis" if i == 1 else f"xaxis{i}"
    ykey = "yaxis" if i == 1 else f"yaxis{i}"
    layout[xkey] = dict(domain=[371 / W, 2998 / W], anchor=ya, range=[0, 24],
                        tickvals=[0, 5, 10, 15, 20], ticks="inside", ticklen=16, tickwidth=2,
                        tickcolor="#808080", showline=True, linecolor="#333333", linewidth=3,
                        showgrid=False, zeroline=False, ticklabelstandoff=6,
                        tickfont=dict(size=28, color="#262626", family=FONT),
                        title=dict(text="UTC hours on 20250422", standoff=8,
                                   font=dict(size=34, color="#262626", family=FONT)))
    layout[ykey] = dict(domain=[1 - bot / H_REF, 1 - top / H_REF], anchor=xa, range=y_ranges[i - 1],
                        tickvals=y_ticks[i - 1], ticktext=[f"{v:g}" for v in y_ticks[i - 1]],
                        ticks="inside", ticklen=22, tickwidth=2, tickcolor=AX_BLUE,
                        showline=True, linecolor=AX_BLUE, linewidth=2, mirror=True,
                        showgrid=False, zeroline=False, ticklabelstandoff=20,
                        tickfont=dict(size=34, color=TXT_BLUE, family=FONT),
                        title=dict(text=y_titles[i - 1], standoff=48,
                                   font=dict(size=32, color=TXT_BLUE, family=FONT)))
    lx, ly = legend_pos[i - 1]
    layout[lg] = dict(x=lx / W, y=1 - ly / H_REF, xanchor="left", yanchor="top", bgcolor="rgba(0,0,0,0)",
                      borderwidth=0, font=dict(size=24, color="black", family=FONT),
                      itemwidth=280, tracegroupgap=0, traceorder="normal")
    if i != 3:
        for a, b in shade_spans:
            layout["shapes"].append(dict(type="rect", xref=xa, yref=f"{ya} domain", x0=a, x1=b,
                                         y0=-0.011, y1=1, fillcolor="rgba(255,255,0,0.15)",
                                         line=dict(width=0), layer="above"))

fig.update_layout(layout)
fig.write_html("out.html")
